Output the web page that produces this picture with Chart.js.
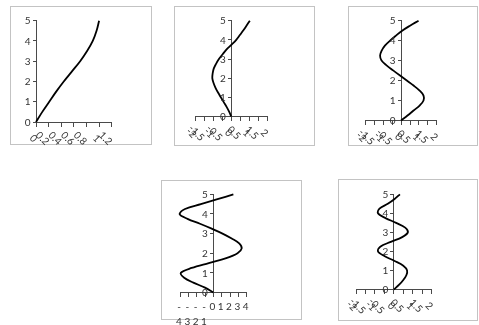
<!DOCTYPE html>
<html>
<head>
<meta charset="utf-8">
<script src="https://cdn.jsdelivr.net/npm/chart.js@4/dist/chart.umd.min.js"></script>
<style>
  html, body { margin: 0; padding: 0; background: #fff; }
  #wrap { position: relative; width: 479px; height: 325px; overflow: hidden; }
  .box { position: absolute; box-sizing: border-box; border: 1px solid #c3c3c3; }
  canvas { position: absolute; left: 0; top: 0; }
</style>
</head>
<body>
<div id="wrap"></div>
<script>
// heights along the member (vertical axis)
var heights1 = [0, 0.5, 1, 1.5, 2, 2.5, 3, 3.5, 4, 4.5, 5];
var heights = [0, 0.25, 0.5, 0.75, 1, 1.25, 1.5, 1.75, 2, 2.25, 2.5, 2.75, 3, 3.25, 3.5, 3.75, 4, 4.25, 4.5, 4.75, 5];

// mode shapes (horizontal displacement)
var mode1 = [0, 0.1, 0.21, 0.32, 0.44, 0.57, 0.7, 0.81, 0.9, 0.96, 1.0];
var mode2 = [0, -0.12, -0.26, -0.42, -0.58, -0.74, -0.88, -0.99, -1.06, -1.04, -0.98, -0.85, -0.69, -0.48, -0.26, 0.02, 0.28, 0.48, 0.68, 0.86, 1.04];
var mode3 = [0, 0.36, 0.7, 1.04, 1.26, 1.26, 1.04, 0.7, 0.32, -0.06, -0.43, -0.8, -1.1, -1.18, -1.09, -0.91, -0.62, -0.29, 0.06, 0.5, 0.98];
var mode4 = [0, -1.0, -2.4, -3.5, -3.9, -2.6, -0.55, 1.55, 2.9, 3.4, 3.1, 2.2, 1.1, -0.2, -1.6, -3.1, -4.05, -3.4, -1.5, 0.5, 2.4];
var mode5 = [0, 0.28, 0.5, 0.66, 0.7, 0.5, 0.04, -0.48, -0.84, -0.72, -0.16, 0.44, 0.74, 0.6, 0.12, -0.44, -0.84, -0.76, -0.32, 0.04, 0.32];

// tick values
var yTicks = [0, 1, 2, 3, 4, 5];
var xTicksA = [0, 0.2, 0.4, 0.6, 0.8, 1, 1.2];
var xTicksB = [-2, -1.5, -1, -0.5, 0, 0.5, 1, 1.5, 2];
var xTicksC = [-4, -3, -2, -1, 0, 1, 2, 3, 4];

var axisColor = '#4a4a4a';
var textColor = '#333333';
var W = 479, H = 325;

// box = frame round each chart, plot = l,t,r,b of the plot area
var panels = [
    { ys: heights1, xs: mode1, ticks: xTicksA, box: [10, 6, 152, 145], plot: [36, 20.7, 111.7, 122], stacked: false },
    { ys: heights, xs: mode2, ticks: xTicksB, box: [174, 6, 315, 146], plot: [195.5, 20.7, 267, 116.5], stacked: false },
    { ys: heights, xs: mode3, ticks: xTicksB, box: [348, 6, 478, 146], plot: [365.5, 20.7, 436.7, 120.5], stacked: false },
    { ys: heights, xs: mode4, ticks: xTicksC, box: [161, 180, 302, 320], plot: [180, 194.3, 246.7, 292.5], stacked: true },
    { ys: heights, xs: mode5, ticks: xTicksB, box: [338, 179, 478, 321], plot: [356, 194.3, 431.7, 289.5], stacked: false }
];

// tick labels drawn by hand: y left of the crossing axis,
// x Excel-style slanted, or split onto two lines
var axisLabels = {
    id: 'axisLabels',
    afterDraw: function (chart, args, opts) {
        var sx = chart.scales.x, sy = chart.scales.y;
        var ctx = chart.ctx;
        var base = sy.getPixelForValue(0);
        var axisX = sx.getPixelForValue(0);
        ctx.save();
        ctx.font = '10px Lato';
        ctx.fillStyle = textColor;
        ctx.textBaseline = 'middle';

        ctx.textAlign = 'right';
        sy.ticks.forEach(function (t) {
            ctx.fillText(String(t.value), axisX - 5.5, sy.getPixelForValue(t.value) + 0.5);
        });

        ctx.textAlign = 'center';
        sx.ticks.forEach(function (t) {
            var px = sx.getPixelForValue(t.value);
            var txt = String(t.value);
            if (opts.stacked) {
                if (t.value < 0) {
                    ctx.fillText('-', px - 1, base + 14.5);
                    ctx.fillText(String(-t.value), px - 1, base + 29.5);
                } else {
                    ctx.fillText(txt, px - 1, base + 14.5);
                }
            } else {
                var w = ctx.measureText(txt).width;
                ctx.save();
                ctx.translate(px - 0.45 * w, base + 16.5);
                ctx.rotate(Math.PI / 4);
                ctx.fillText(txt, 0, 0);
                ctx.restore();
            }
        });
        ctx.restore();
    }
};

var wrap = document.getElementById('wrap');

panels.forEach(function (p) {
    var box = document.createElement('div');
    box.className = 'box';
    box.style.left = p.box[0] + 'px';
    box.style.top = p.box[1] + 'px';
    box.style.width = (p.box[2] - p.box[0]) + 'px';
    box.style.height = (p.box[3] - p.box[1]) + 'px';
    wrap.appendChild(box);

    var cv = document.createElement('canvas');
    cv.width = W;
    cv.height = H;
    wrap.appendChild(cv);

    var pts = [];
    for (var i = 0; i < p.ys.length; i++) {
        pts.push({ x: p.xs[i], y: p.ys[i] });
    }
    var xt = p.ticks;

    new Chart(cv, {
        type: 'scatter',
        data: {
            datasets: [{
                data: pts,
                showLine: true,
                borderColor: '#000',
                borderWidth: 1.8,
                pointRadius: 0,
                tension: 0.35,
                clip: false
            }]
        },
        plugins: [axisLabels],
        options: {
            responsive: false,
            animation: false,
            devicePixelRatio: 1,
            events: [],
            layout: {
                padding: { left: p.plot[0], top: p.plot[1], right: W - p.plot[2], bottom: H - p.plot[3] }
            },
            plugins: {
                legend: { display: false },
                tooltip: { enabled: false },
                axisLabels: { stacked: p.stacked }
            },
            scales: {
                x: {
                    type: 'linear',
                    position: { y: 0 },
                    min: xt[0],
                    max: xt[xt.length - 1],
                    afterBuildTicks: function (s) {
                        s.ticks = xt.map(function (v) { return { value: v }; });
                    },
                    ticks: { display: false },
                    grid: { drawOnChartArea: false, drawTicks: true, tickLength: 4, tickColor: axisColor },
                    border: { display: true, color: axisColor, width: 1 }
                },
                y: {
                    type: 'linear',
                    position: { x: 0 },
                    min: yTicks[0],
                    max: yTicks[yTicks.length - 1],
                    afterBuildTicks: function (s) {
                        s.ticks = yTicks.map(function (v) { return { value: v }; });
                    },
                    ticks: { display: false },
                    grid: { drawOnChartArea: false, drawTicks: true, tickLength: 3, tickColor: axisColor },
                    border: { display: true, color: axisColor, width: 1 }
                }
            }
        }
    });
});
</script>
</body>
</html>
